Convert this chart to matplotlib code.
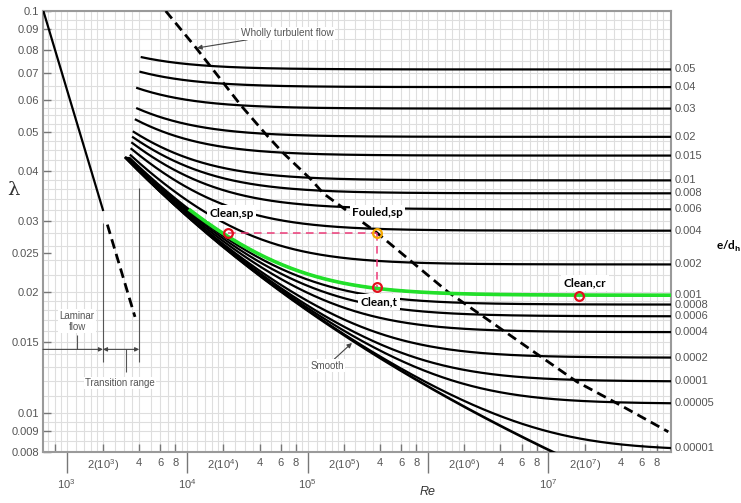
import numpy as np
import matplotlib.pyplot as plt
from matplotlib.transforms import blended_transform_factory

plt.rcParams['font.family'] = ['Liberation Sans', 'DejaVu Sans']
plt.rcParams['mathtext.fontset'] = 'custom'
plt.rcParams['mathtext.rm'] = 'Liberation Sans'
plt.rcParams['mathtext.it'] = 'Liberation Sans:italic'
plt.rcParams['mathtext.bf'] = 'Liberation Sans:bold'

# relative roughness e/d_h of each turbulent curve and the Re where it starts
roughness = [0.05, 0.04, 0.03, 0.02, 0.015, 0.01, 0.008, 0.006, 0.004, 0.002,
             0.001, 0.0008, 0.0006, 0.0004, 0.0002, 0.0001, 0.00005, 0.00001]
roughness_labels = ['0.05', '0.04', '0.03', '0.02', '0.015', '0.01', '0.008',
                    '0.006', '0.004', '0.002', '0.001', '0.0008', '0.0006',
                    '0.0004', '0.0002', '0.0001', '0.00005', '0.00001']
re_start = [4200, 4100, 3850, 3850, 3750, 3600, 3550, 3500, 3450, 3400,
            3350, 3300, 3250, 3200, 3150, 3150, 3100, 3100]
smooth_start = 3100

# laminar line, solid part then dashed part into the transition range
lam_re_solid = [640, 2000]
lam_re_dash = [2175, 3690]

# boundary of the wholly turbulent zone
wt_re = [6640, 11860, 27900, 45800, 63000, 108000, 135000, 376000,
         1.47e6, 1.72e7, 3.81e7, 9.93e7]
wt_lam = [0.100, 0.0810, 0.0583, 0.0491, 0.0443, 0.0380, 0.0352, 0.0281,
          0.0200, 0.01197, 0.01053, 0.00898]

# operating points on the chart
pt_names = ['Clean,sp', 'Fouled,sp', 'Clean,t', 'Clean,cr']
pt_re = [2.2e4, 3.8e5, 3.8e5, 1.8e7]
pt_lam = [0.0281, 0.0281, 0.0206, 0.0196]
pt_colors = ['#e3101e', '#f5a800', '#e3101e', '#e3101e']
highlight_rr = 0.001
highlight_start = 10600

y_ticks = [0.008, 0.009, 0.01, 0.015, 0.02, 0.025, 0.03, 0.04, 0.05,
           0.06, 0.07, 0.08, 0.09, 0.1]
y_tick_labels = ['0.008', '0.009', '0.01', '0.015', '0.02', '0.025', '0.03',
                 '0.04', '0.05', '0.06', '0.07', '0.08', '0.09', '0.1']
decades = [1e3, 1e4, 1e5, 1e6, 1e7]
decade_labels = [r'10$^{3}$', r'10$^{4}$', r'10$^{5}$', '', r'10$^{7}$']

XMIN, XMAX = 10 ** 2.803, 10 ** 8.015
YMIN, YMAX = 0.008, 0.1


def colebrook(re, rr):
    re = np.asarray(re, dtype=float)
    f = np.full_like(re, 0.02)
    for _ in range(60):
        f = (-2.0 * np.log10(rr / 3.7 + 2.51 / (re * np.sqrt(f)))) ** -2
    return f


fig = plt.figure(figsize=(7.41, 5.03), dpi=100)
ax = fig.add_axes([43 / 741, 1 - 452 / 503, 627.5 / 741, 441 / 503])
ax.set_xscale('log')
ax.set_yscale('log')
ax.set_xlim(XMIN, XMAX)
ax.set_ylim(YMIN, YMAX)

# background grid
gx = [m * 10 ** k for k in range(2, 8)
      for m in [1, 1.2, 1.4, 1.6, 1.8, 2, 2.5, 3, 3.5, 4, 5, 6, 7, 8, 9]]
gx = [v for v in gx if XMIN < v < XMAX]
gy = list(np.arange(0.008, 0.01, 0.0005)) + list(np.arange(0.01, 0.02, 0.001)) \
    + list(np.arange(0.02, 0.04, 0.002)) + list(np.arange(0.04, 0.06, 0.0025)) \
    + list(np.arange(0.06, 0.1, 0.005))
ax.vlines(gx, YMIN, YMAX, color='#dedede', lw=0.8, zorder=0)
ax.hlines(gy, XMIN, XMAX, color='#dedede', lw=0.8, zorder=0)

# turbulent curves
for rr, r0 in zip(roughness, re_start):
    re = np.geomspace(r0, XMAX, 400)
    ax.plot(re, colebrook(re, rr), color='black', lw=1.6, zorder=3)
re = np.geomspace(smooth_start, XMAX, 400)
ax.plot(re, colebrook(re, 0.0), color='black', lw=1.9, zorder=3)

# laminar flow
re = np.array(lam_re_solid)
ax.plot(re, 64 / re, color='black', lw=1.6, zorder=3)
re = np.array(lam_re_dash)
ax.plot(re, 64 / re, color='black', lw=2.0, ls=(0, (3.5, 2)), zorder=3)

# wholly turbulent boundary
ax.plot(wt_re, wt_lam, color='black', lw=2.0, ls=(0, (3.5, 2)), zorder=4)

# right-hand roughness labels at the end of each curve
tr = blended_transform_factory(ax.transAxes, ax.transData)
for rr, lab in zip(roughness, roughness_labels):
    ax.text(1.006, colebrook([XMAX], rr)[0], lab, transform=tr, ha='left',
            va='center', fontsize=8, color='#555555', clip_on=False)
fig.text(729 / 741, 1 - 246 / 503, r'e/d$_\mathbf{h}$', ha='center', va='center',
         fontsize=8.5, fontweight='bold', family='Lato', color='black')

# transition range markers
ax.vlines(2000, 0.01339, 0.0297, color='#555555', lw=0.8, zorder=2)
ax.vlines(4000, 0.01339, 0.0362, color='#555555', lw=0.8, zorder=2)
ax.annotate('', xy=(2000, 0.0144), xytext=(XMIN, 0.0144),
            arrowprops=dict(arrowstyle='-|>', color='#444444', lw=0.8,
                            mutation_scale=6, shrinkA=0, shrinkB=0))
ax.annotate('', xy=(4000, 0.0144), xytext=(2000, 0.0144),
            arrowprops=dict(arrowstyle='<|-|>', color='#444444', lw=0.8,
                            mutation_scale=6, shrinkA=0, shrinkB=0))
ax.vlines(1210, 0.0144, 0.0156, color='#555555', lw=0.8, zorder=2)
ax.vlines(3110, 0.01262, 0.0144, color='#555555', lw=0.8, zorder=2)

note_box = dict(boxstyle='square,pad=0.15', fc='white', ec='none')
ax.text(1218, 0.01692, 'Laminar\nflow', ha='center', va='center', fontsize=7,
        color='#555555', linespacing=1.1, bbox=note_box, zorder=5)
ax.text(2772, 0.01188, 'Transition range', ha='center', va='center', fontsize=7,
        color='#555555', bbox=note_box, zorder=5)
ax.annotate('Wholly turbulent flow', xy=(12080, 0.0809), xytext=(28000, 0.088),
            ha='left', va='center', fontsize=7.2, color='#555555', bbox=note_box,
            arrowprops=dict(arrowstyle='-|>', color='#444444', lw=0.8,
                            mutation_scale=7, shrinkA=0, shrinkB=0), zorder=5)
ax.annotate('Smooth', xy=(2.34e5, 0.01494), xytext=(2.01e5, 0.01351),
            ha='right', va='top', fontsize=7, color='#555555', bbox=note_box,
            arrowprops=dict(arrowstyle='-|>', color='#444444', lw=0.8,
                            mutation_scale=7, shrinkA=0, shrinkB=0), zorder=5)

# highlighted curve and operating points
re = np.geomspace(highlight_start, XMAX, 400)
ax.plot(re, colebrook(re, highlight_rr), color='#22e02a', lw=2.6, zorder=5)
ax.plot([pt_re[0], pt_re[1]], [pt_lam[0], pt_lam[1]], color='#ec3a78', lw=1.1,
        ls=(0, (5, 3.5)), zorder=6)
ax.plot([pt_re[1], pt_re[2]], [pt_lam[1], pt_lam[2]], color='#ec3a78', lw=1.1,
        ls=(0, (5, 3.5)), zorder=6)
offsets = [(2.4, 14.1), (0, 14.4), (1.2, -10.8), (4.3, 8.9)]
for name, x, y, c, off in zip(pt_names, pt_re, pt_lam, pt_colors, offsets):
    ax.plot(x, y, 'o', ms=6.3, mfc='none', mec=c, mew=1.6, zorder=8)
    ax.annotate(name, xy=(x, y), xytext=off, textcoords='offset points',
                ha='center', va='center', fontsize=8.5, fontweight='bold',
                family='Lato', color='black', zorder=7,
                bbox=dict(boxstyle='square,pad=0.2', fc='white', ec='none'))

# axes and ticks
for s in ax.spines.values():
    s.set_color('#9a9a9a')
    s.set_linewidth(1.5)

ax.set_yticks(y_ticks)
ax.set_yticklabels(y_tick_labels)
ax.yaxis.set_minor_locator(plt.NullLocator())
ax.tick_params(axis='y', direction='in', length=6, width=1, color='#777777',
               labelsize=8, labelcolor='#555555', pad=3)

ax.set_xticks(decades)
ax.set_xticklabels(decade_labels)
minor = [800]
minor_labels = ['']
for k in range(3, 8):
    minor += [2 * 10 ** k, 4 * 10 ** k, 6 * 10 ** k, 8 * 10 ** k]
    minor_labels += [r'2(10$^{%d}$)' % k, '4', '6', '8']
ax.set_xticks(minor, minor=True)
ax.set_xticklabels(minor_labels, minor=True)
ax.tick_params(axis='x', which='major', direction='out', length=15, width=1,
               color='#777777', labelsize=8, labelcolor='#555555', pad=3)
ax.tick_params(axis='x', which='minor', direction='in', length=6, width=1,
               color='#777777', labelsize=8, labelcolor='#555555', pad=4)

fig.text(428 / 741, 1 - 492 / 503, 'Re', ha='center', va='center', fontsize=9,
         style='italic', color='#333333')
fig.text(13 / 741, 1 - 190 / 503, 'λ', ha='center', va='center', fontsize=14,
         family='DejaVu Serif', color='#333333')

fig.savefig('out.png', dpi=100)
